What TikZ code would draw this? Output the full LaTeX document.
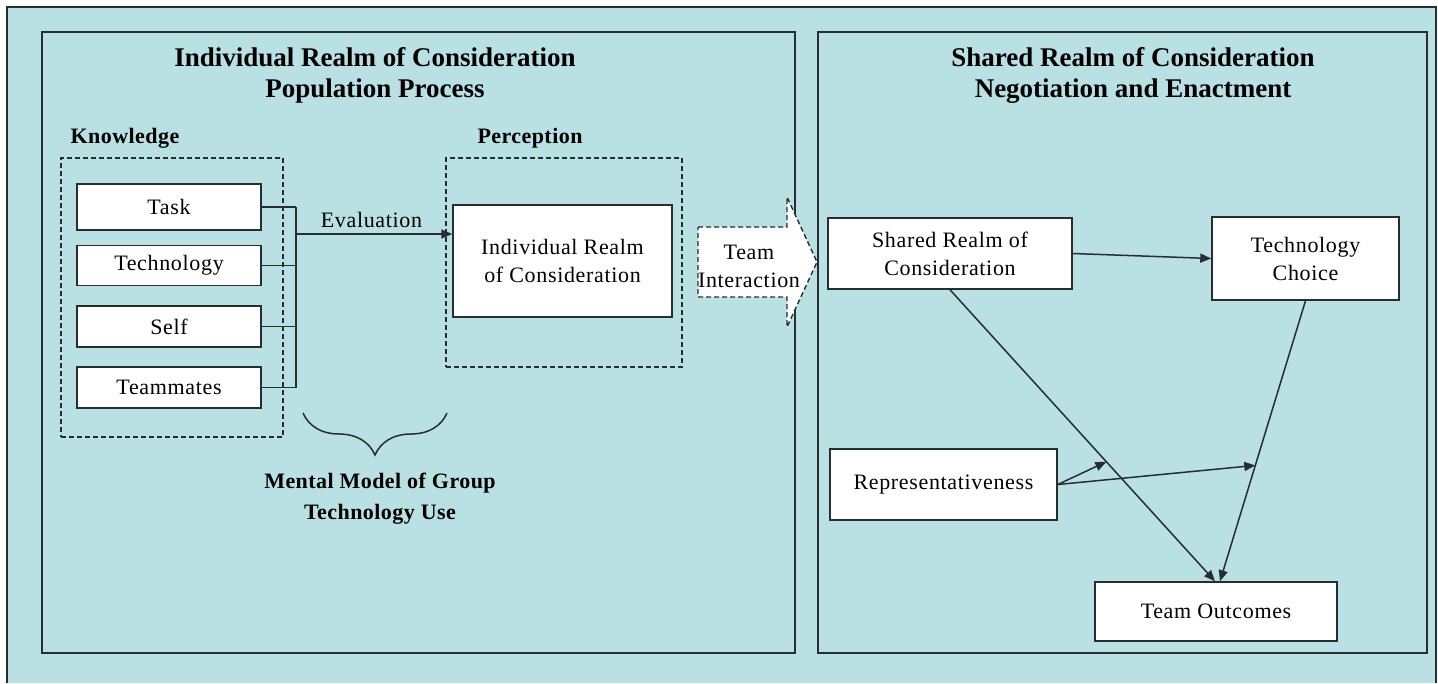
\documentclass[tikz,border=0pt]{standalone}
\usepackage{fontspec}
\setmainfont{Liberation Serif}
\usetikzlibrary{arrows.meta,decorations.pathreplacing,calc}
\definecolor{bg}{RGB}{185,224,227}
\definecolor{frame}{RGB}{40,45,48}
\newcommand{\ttlfont}{\fontsize{27}{34}\selectfont\bfseries}
\newcommand{\subfont}{\fontsize{22}{31}\selectfont\bfseries\addfontfeature{LetterSpace=2}}
\newcommand{\txtfont}{\fontsize{22}{28}\selectfont\addfontfeature{LetterSpace=3}}
\tikzset{
  wbox/.style={draw=frame, fill=white, line width=1.5pt, inner sep=0pt, font=\txtfont, align=center},
  bigbox/.style={draw=frame, line width=2pt, inner sep=0pt},
  dbox/.style={draw=frame, line width=1.3pt, dash pattern=on 5pt off 3pt, inner sep=0pt},
  ttl/.style={font=\ttlfont, align=center, inner sep=0pt},
  sub/.style={font=\subfont, align=center, inner sep=0pt},
  lbl/.style={font=\txtfont, align=center, inner sep=0pt},
  conn/.style={draw=frame, line width=1.5pt},
  arr/.style={conn, -{Triangle[length=11pt,width=9pt]}},
}
\begin{document}
\begin{tikzpicture}[x=1pt,y=-1pt]
\useasboundingbox (0,0) rectangle (1438,683);
\fill[white] (0,0) rectangle (1438,683);
\fill[bg] (7,7) rectangle (1437,683);
\draw[frame, line width=2pt] (7,683) -- (7,7) -- (1436,7) -- (1436,683);

% big panels
\node[bigbox, minimum width=753pt, minimum height=621pt] (leftp) at (418.5,342.5) {};
\node[bigbox, minimum width=609pt, minimum height=621pt] (rightp) at (1122.5,342.5) {};

% titles
\node[ttl] (lt1) at (375,57) {Individual Realm of Consideration};
\node[ttl] (lt2) at (375,91) {Population Process};
\node[ttl] (rt1) at (1133,57) {Shared Realm of Consideration};
\node[ttl] (rt2) at (1133,91) {Negotiation and Enactment};
\node[sub] (know) at (125,138) {Knowledge};
\node[sub] (perc) at (530,138) {Perception};

% dashed groups
\node[dbox, minimum width=222pt, minimum height=279pt] (kbox) at (172,297.5) {};
\node[dbox, minimum width=236pt, minimum height=209pt] (pbox) at (564,262.5) {};

% knowledge boxes
\node[wbox, minimum width=184pt, minimum height=46pt] (task) at (169,207) {Task};
\node[wbox, minimum width=184pt, minimum height=40pt] (tech) at (169,265.5) {Technology};
\node[wbox, minimum width=184pt, minimum height=41pt] (self) at (169,326.5) {Self};
\node[wbox, minimum width=184pt, minimum height=41pt] (mates) at (169,387.5) {Teammates};

\node[wbox, minimum width=219pt, minimum height=112pt] (ind) at (562.5,261) {Individual Realm\\of Consideration};

% bracket connectors
\coordinate (jx) at (296,234);
\draw[conn] (task.east) -- (task.east -| jx);
\draw[conn] (tech.east) -- (tech.east -| jx);
\draw[conn] (self.east) -- (self.east -| jx);
\draw[conn] (mates.east) -- (mates.east -| jx);
\draw[conn] (task.east -| jx) -- (mates.east -| jx);
\draw[arr] (jx) -- (jx -| ind.west);
\node[lbl] (eval) at (371.5,220) {Evaluation};

% brace
\coordinate (bl) at (303,413);
\coordinate (br) at (447,413);
\draw[conn, decorate, decoration={brace, mirror, amplitude=42pt}] (bl) -- (br);
\node[sub] (mm) at (380,499) {Mental Model of Group\\Technology Use};

% team interaction arrow
\draw[draw=frame, fill=white, line width=1.4pt, dash pattern=on 5pt off 3pt]
  (698,227) -- (787,227) -- (787,197) -- (817,262) -- (787,327) -- (787,297) -- (698,297) -- cycle;
\node[lbl] (ti) at (749,266) {Team\\Interaction};

% right side boxes
\node[wbox, minimum width=244pt, minimum height=71pt] (sr) at (950,253.5) {Shared Realm of\\Consideration};
\node[wbox, minimum width=187pt, minimum height=83pt] (tc) at (1305.5,258.5) {Technology\\Choice};
\node[wbox, minimum width=227pt, minimum height=71pt] (rep) at (943.5,484.5) {Representativeness};
\node[wbox, minimum width=242pt, minimum height=59pt] (to) at (1216,611.5) {Team Outcomes};

% right side arrows
\draw[arr] (sr.east) -- (tc.west);
\draw[arr] (sr.south) -- ([xshift=-1pt]to.north);
\draw[arr] (tc.south) -- ([xshift=4pt]to.north);
\coordinate (p1) at ($(sr.south)!0.59!([xshift=-1pt]to.north)$);
\coordinate (p2) at ($(tc.south)!0.587!([xshift=4pt]to.north)$);
\draw[arr] (rep.east) -- (p1);
\draw[arr] (rep.east) -- (p2);
\end{tikzpicture}
\end{document}
